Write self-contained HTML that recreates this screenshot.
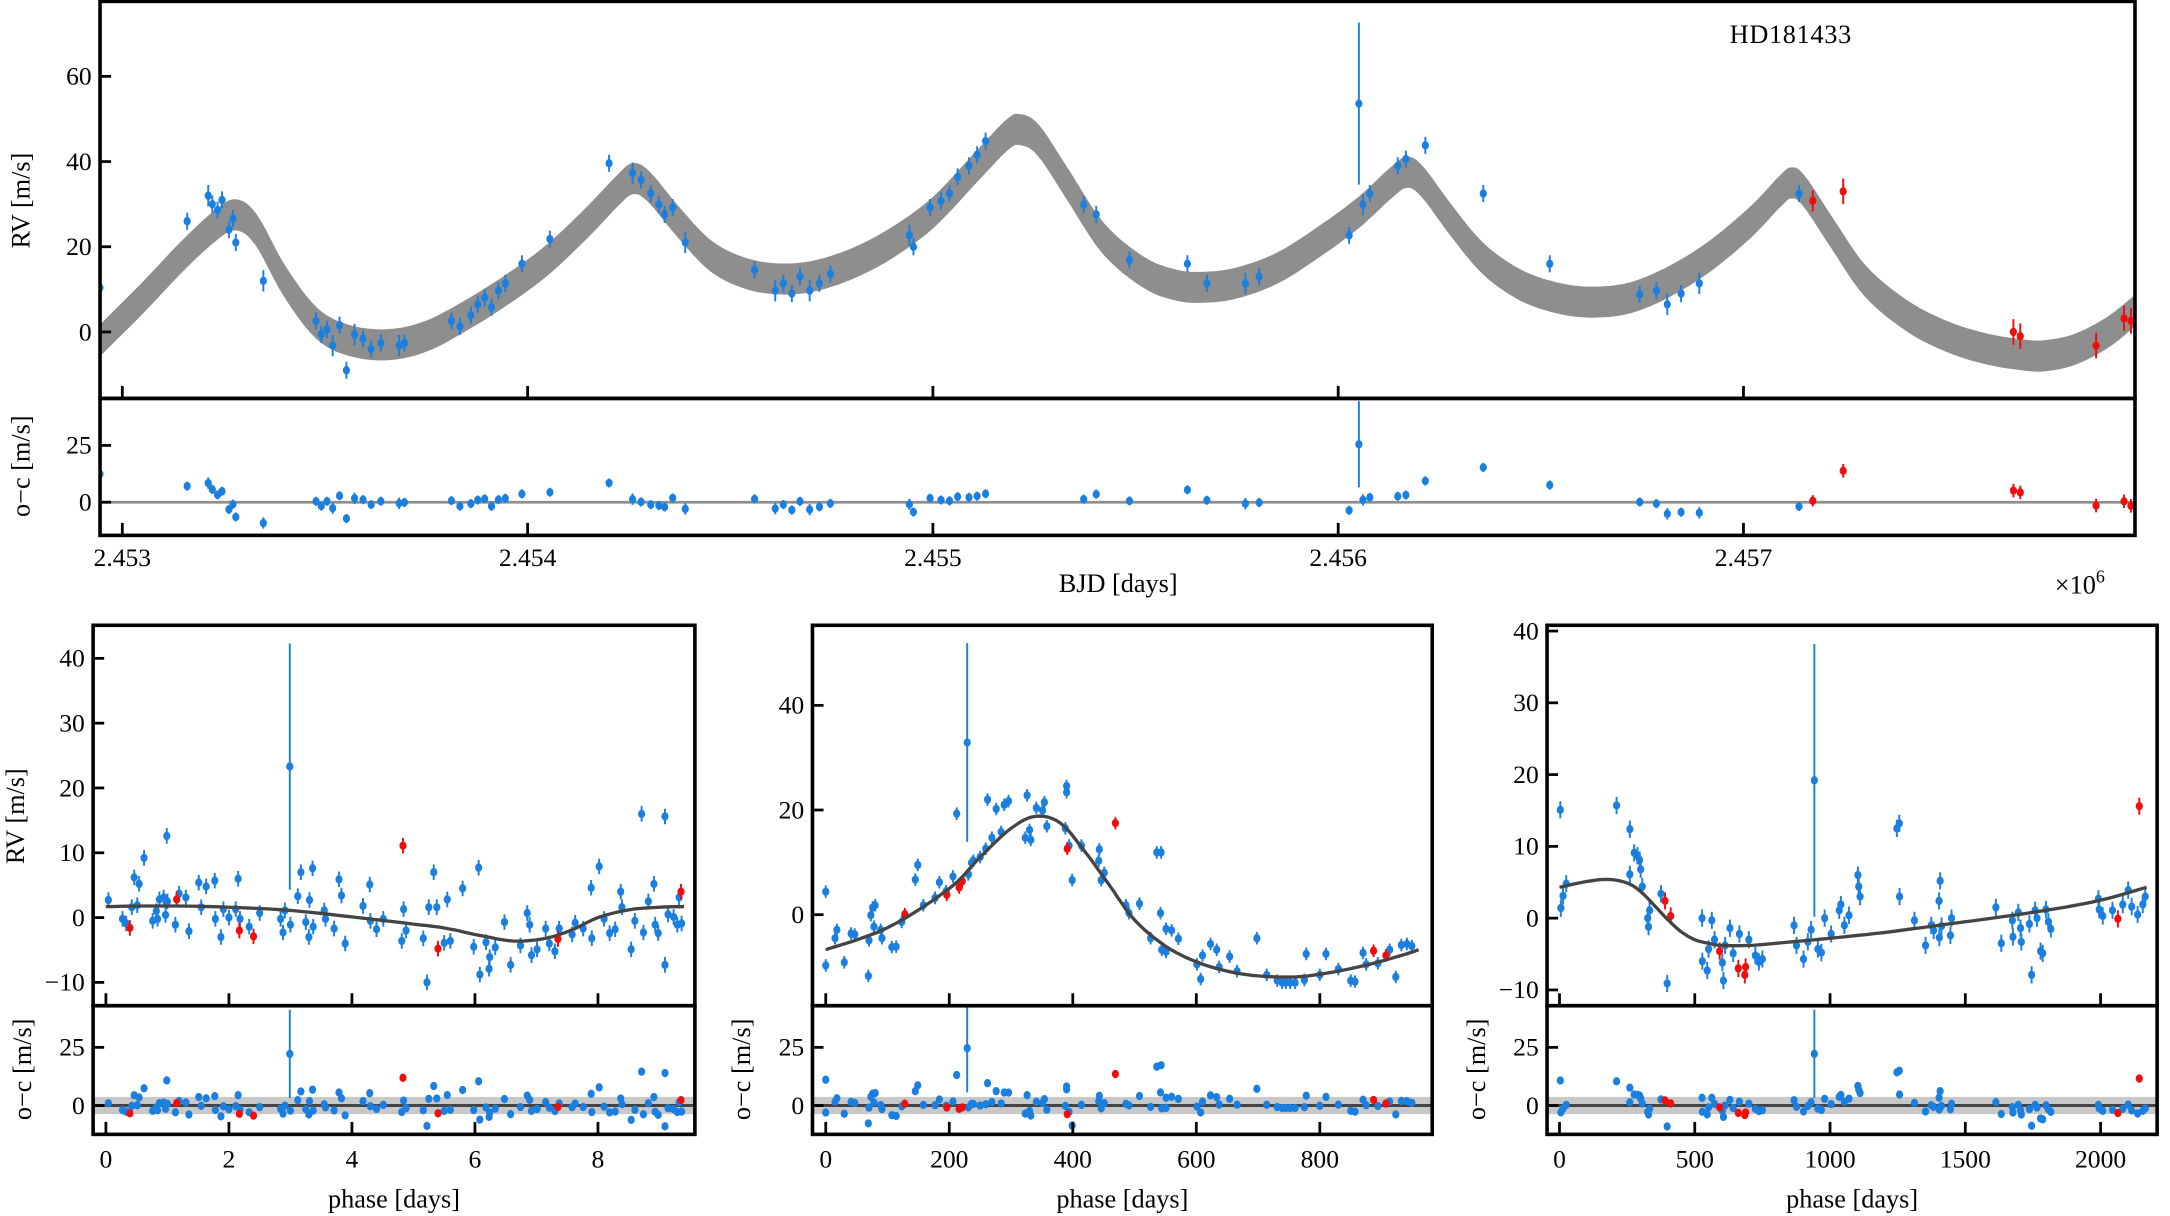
<!DOCTYPE html>
<html><head><meta charset="utf-8"><title>HD181433 RV</title>
<style>
html,body{margin:0;padding:0;background:#fff;}
svg{display:block;font-family:"Liberation Serif","DejaVu Serif",serif;}
</style></head>
<body>
<svg id="chart" xmlns="http://www.w3.org/2000/svg" width="2170" height="1216" viewBox="0 0 1568 879">
<rect x="0" y="0" width="1568" height="879" fill="#fff"/>
</svg>
<script>
// ===== data: top time series (t = BJD - 2450000, value, error) =====
const topBlue = [[2945,10.4,6],[3160,26,2],[3212,32,2.5],[3222,30,2],[3235,28.6,2],[3246,31,2],[3263,24,2],[3273,26.6,2],[3280,21,2],[3348,12,2.5],
[3478,2.6,2],[3491,-0.6,2],[3505,0.6,2],[3519,-3.2,2.5],[3536,1.6,2],[3553,-9,2],[3573,-0.6,2.5],[3594,-1.6,2],[3614,-4,2],[3638,-2.6,2],[3683,-3.2,2.5],[3696,-2.6,2],
[3812,2.6,2],[3833,1.3,2],[3860,3.9,2],[3877,6.5,2],[3894,8,2],[3911,5.8,2],[3928,9.7,2],[3945,11.4,2],[3986,16,2],[4055,21.8,2],
[4201,39.6,2],[4259,37.3,2.5],[4280,35.7,2],[4304,32.5,2],[4324,29.9,2],[4338,27.6,2],[4358,29.2,2],[4389,21,2.5],
[4560,14.6,2],[4611,9.7,2.5],[4631,11.4,2],[4652,9,2],[4672,13,2],[4696,9.7,2.5],[4720,11.4,2],[4747,13.6,2],
[4942,22.7,2.5],[4952,20,2],[4993,29.2,2],[5020,30.8,2],[5041,32.5,2],[5061,36.4,2],[5089,39,2],[5109,41.6,2],[5130,44.8,2],
[5372,29.9,2],[5403,27.6,2],[5485,16.9,2],[5628,16,2],[5676,11.4,2],[5771,11.4,2.5],[5805,13,2],
[6027,22.7,2],[6051,53.6,19],[6061,29.9,2.5],[6078,32.5,2],[6147,39,2],[6167,40.6,2],[6215,43.8,2],
[6358,32.5,2],[6522,16,2],[6744,8.8,2],[6785,9.7,2],[6812,6.5,2.5],[6846,9,2],[6891,11.4,2.5],[7137,32.5,2]];
const topRed = [[7171,30.8,2.5],[7246,33,3],[7666,0,3],[7683,-1,3],[7870,-3.2,3],[7939,3.2,3],[7956,2.6,3]];
const topModelT = [2945,3050,3150,3230,3280,3330,3400,3480,3560,3655,3750,3850,3950,4050,4150,4220,4260,4300,4370,4450,4530,4611,4700,4800,4900,5000,5100,5180,5215,5260,5330,5420,5520,5600,5669,5750,5850,5950,6050,6130,6171,6210,6280,6360,6450,6540,6625,6720,6820,6920,7020,7090,7119,7150,7220,7300,7400,7500,7600,7700,7751,7820,7900,7966];
const topModelV = [-2,8,18,25,27.5,24,12,2,-2,-3,-1,4,10,17,26,33,36,34,26,18,14,12.5,13,16,21,28,38,46,47.5,45,35,22,14,11,10.5,11.5,15,21,28,35,37.5,35,26,17,11,8,7,8,12,18,26,33,35,33,23,12,4,-1,-4,-5.5,-5.5,-4,0,5];
const topXTicks = [3000,4000,5000,6000,7000];
const topXTickLabels = ["2.453","2.454","2.455","2.456","2.457"];
const topYTicks = [0,20,40,60];
const residTicks = [0,25];

// ===== panel 1 (short period) =====
const p1Blue = [[0.04,2.7],[0.27,-0.2],[0.33,-0.9],[0.42,1.6],[0.46,6.2],[0.54,5.2],[0.51,1.9],[0.62,9.2],[0.76,-0.5],[0.82,1],[0.84,-0.2],[0.87,2.8],[0.94,3.1],[0.97,0.4],[0.99,12.6],[1.0,2.5],[1.13,-1.1],[1.19,3.7],[1.3,3.1],[1.35,-2.1],[1.51,5.4],[1.55,1.6],[1.63,4.8],[1.77,5.7],[1.78,-0.2],[1.87,-3],[1.91,1.3],[2.0,0],[2.11,1.3],[2.15,6],[2.18,-0.2],[2.33,-1.4],[2.5,0.7],[2.84,-0.2],[2.88,-2.3],[2.91,1.1],[2.99,23.3,19],[3.0,-1.1],[3.12,3.3],[3.17,7],[3.25,-0.7],[3.3,-3],[3.31,2.7],[3.36,7.6],[3.37,-1.4],[3.55,1.1],[3.57,-0.2],[3.71,-1.7],[3.79,5.9],[3.83,3.4],[3.89,-4],[4.18,1.8],[4.29,5.1],[4.3,-0.5],[4.4,-1.8],[4.51,-0.2],[4.81,-3.6],[4.84,1.3],[4.88,-2],[5.16,-3.2],[5.22,-10],[5.25,1.6],[5.33,7],[5.38,1.6],[5.5,-3.9],[5.55,2.8],[5.6,-3.6],[5.8,4.5],[5.98,-4.5],[6.06,7.7],[6.08,-8.8],[6.18,-3.8],[6.23,-7.9],[6.24,-6.1],[6.33,-4.6],[6.48,-0.7],[6.58,-7.3],[6.74,-4.3],[6.85,0.7],[6.89,-1.1],[6.92,-5.8],[7.01,-4.9],[7.15,-1.7],[7.21,-4],[7.3,-5.2],[7.37,-1.7],[7.58,-2.6],[7.63,-0.8],[7.76,-1.7],[7.89,4.6],[7.9,-3.2],[8.02,7.9],[8.1,-0.2],[8.19,-2.4],[8.28,-1.8],[8.37,4],[8.39,1.6],[8.54,-4.9],[8.6,-0.5],[8.71,16],[8.74,-2.3],[8.82,2.5],[8.91,5.2],[8.93,-1.1],[8.98,-2.4],[9.09,15.6],[9.09,-7.3],[9.14,0.5],[9.23,0.1],[9.29,-1.1],[9.32,3.1],[9.36,-0.9]];
const p1Red = [[0.39,-1.6],[1.15,2.8],[2.17,-2],[2.4,-2.9],[4.83,11.1],[5.4,-4.8],[7.35,-3.3],[9.35,4]];
const p1ModelX = [0,1,2,3,4,5,5.5,6,6.5,6.8,7.2,7.6,8,8.5,9,9.4];
const p1ModelV = [1.7,1.8,1.6,1.1,0.1,-1,-1.6,-2.6,-3.5,-3.6,-3.1,-1.8,0,1.2,1.6,1.7];
const p1XTicks = [0,2,4,6,8];
const p1YTicks = [-10,0,10,20,30,40];

// ===== panel 2 (~960 d) =====
const p2Blue = [[0,4.4],[0,-9.7],[15,-4.5],[18,-2.9],[30,-9.1],[41,-3.6],[47,-3.8],[69,-11.7],[70,-4.9],[73,-0.1],[76,1.4],[80,1.8],[78,-2.3],[89,-2.9],[91,-4.5],[107,-6.2],[114,-6.1],[123,-1.4],[145,6.7],[149,9.5],[158,1.8],[177,3.2],[184,6.2],[195,4.5],[206,7.3],[212,19.3],[229,32.9,19],[231,7.7],[236,9.9],[239,10.3],[250,11],[259,12.6],[262,22],[269,14.7],[276,20.2],[284,15.8],[289,21],[296,21.7],[323,14.7],[326,22.8],[330,16.2],[332,14.3],[341,20.4],[351,19.9],[354,21.5],[358,16.9],[388,16.5],[390,23.4],[390,24.6],[394,13.2],[399,6.6],[414,13.2],[442,10.3],[443,12.5],[446,6.6],[451,8],[486,1.8],[491,0.3],[508,2.1],[526,-4.5],[536,11.9],[543,11.9],[542,0.3],[544,-6.7],[551,-7.1],[551,-2.7],[560,-3],[571,-4.6],[601,-9.5],[607,-12.3],[610,-7.8],[623,-5.6],[633,-6.7],[637,-10],[654,-8],[666,-10.8],[698,-4.5],[714,-11.5],[731,-12.6],[739,-13],[745,-13],[752,-13],[760,-13],[775,-12.5],[778,-7.5],[800,-11.5],[810,-7.5],[830,-10.4],[850,-12.6],[857,-12.8],[870,-7.3],[875,-9.5],[894,-9.3],[913,-6.7],[923,-11.9],[932,-5.8],[941,-5.6],[949,-6]];
const p2Red = [[128,0.1],[196,3.8],[216,5.2],[221,6.4],[391,12.6],[469,17.5],[887,-6.9],[907,-7.8]];
const p2ModelX = [0,100,200,250,300,340,380,420,460,500,550,600,650,700,760,820,880,940,960];
const p2ModelV = [-6.7,-2.5,5,11,16.5,18.8,17.5,12,5.5,-1,-6,-9,-10.8,-11.7,-11.9,-11,-9.5,-7.5,-6.7];
const p2XTicks = [0,200,400,600,800];
const p2YTicks = [0,20,40];

// ===== panel 3 (~2170 d) =====
const p3Blue = [[3,15.1],[5,1.4],[13,3.1],[25,4.8],[211,15.7],[260,12.4],[260,6.1],[276,9.1],[288,8.7],[296,8.1],[300,6.8],[306,4.4],[326,0],[329,-1.2],[333,1.1],[375,3.4],[398,-9.1],[527,0],[528,-6],[546,-7.3],[551,-4.3],[563,-0.3],[573,-3],[602,-6.2],[606,-8.7],[612,-3.8],[630,-1.4],[642,-4.9],[665,-2.2],[700,-3],[724,-5.2],[737,-6.1],[750,-5.7],[867,-1],[876,-3.8],[902,-5.7],[918,-3.3],[930,-1.6],[942,19.2,19],[955,-4.3],[968,-4.8],[980,0],[1004,-2.2],[1034,1.1],[1040,1.9],[1053,-1],[1070,0.4],[1103,6],[1106,4.4],[1111,3],[1247,12.5],[1256,13.2],[1257,3],[1312,-0.3],[1353,-3.8],[1374,-1],[1383,-1.7],[1403,2.4],[1404,-2.7],[1407,5.2],[1412,-1.1],[1445,-2.4],[1449,0],[1613,1.5],[1633,-3.5],[1674,-0.3],[1676,-2.6],[1696,0.8],[1704,-1.4],[1707,-3.3],[1737,-0.8],[1745,-7.9],[1758,1.1],[1765,0],[1778,-4.6],[1786,-4.9],[1798,1.2],[1807,-0.5],[1816,-1.5],[1992,2.7],[1995,1.2],[2008,0.3],[2044,1.1],[2082,1.9],[2102,3.9],[2115,1.6],[2137,0.5],[2156,1.9],[2165,3]];
const p3Red = [[390,2.4],[411,0.3],[592,-4.6],[661,-7],[685,-7.9],[688,-6.8],[2064,-0.1],[2143,15.6]];
const p3ModelX = [0,100,180,250,300,350,400,450,500,550,600,700,800,1000,1200,1400,1600,1800,2000,2170];
const p3ModelV = [4.3,5.1,5.4,4.9,3.7,1.8,-0.2,-1.9,-3,-3.5,-3.8,-3.8,-3.5,-2.8,-2,-1,0,1.1,2.5,4.3];
const p3XTicks = [0,500,1000,1500,2000];
const p3YTicks = [-10,0,10,20,30,40];

const BLUE = "#1b7fe0", RED = "#f20d0d";
const NS = "http://www.w3.org/2000/svg";
const svg = document.getElementById("chart");

function el(tag, attrs, parent) {
  const e = document.createElementNS(NS, tag);
  for (const k in attrs) e.setAttribute(k, attrs[k]);
  (parent || svg).appendChild(e);
  return e;
}
function lin(d0, d1, r0, r1) { return v => r0 + (v - d0) / (d1 - d0) * (r1 - r0); }
function interp(xs, vs, x) {
  if (x <= xs[0]) return vs[0];
  for (let i = 1; i < xs.length; i++) if (x <= xs[i]) { const f = (x - xs[i-1]) / (xs[i] - xs[i-1]); return vs[i-1] + f * (vs[i] - vs[i-1]); }
  return vs[vs.length - 1];
}
// Catmull-Rom densify (smooth curve through model knots)
function smooth(xs, vs, n) {
  const ox = [], ov = [];
  for (let i = 0; i < xs.length - 1; i++) {
    const i0 = Math.max(0, i - 1), i3 = Math.min(xs.length - 1, i + 2);
    for (let k = 0; k < n; k++) {
      const t = k / n, t2 = t * t, t3 = t2 * t;
      const cr = (a, b, c, d) => 0.5 * (2 * b + (-a + c) * t + (2 * a - 5 * b + 4 * c - d) * t2 + (-a + 3 * b - 3 * c + d) * t3);
      ox.push(cr(xs[i0], xs[i], xs[i + 1], xs[i3]));
      ov.push(cr(vs[i0], vs[i], vs[i + 1], vs[i3]));
    }
  }
  ox.push(xs[xs.length - 1]); ov.push(vs[vs.length - 1]);
  return [ox, ov];
}
function fmt(v) { return v < 0 ? "\u2212" + (-v) : String(v); }
let clipId = 0;
function makeClip(x0, y0, x1, y1) {
  const id = "clip" + (clipId++);
  const cp = el("clipPath", { id: id });
  el("rect", { x: x0, y: y0, width: x1 - x0, height: y1 - y0 }, cp);
  return "url(#" + id + ")";
}
function drawPoints(parent, pts, xs, ys, color, defErr, name) {
  for (const p of pts) {
    const e = p.length > 2 ? p[2] : defErr;
    const g = el("g", {}, parent);
    
    
    el("line", { x1: xs(p[0]), x2: xs(p[0]), y1: ys(p[1] - e), y2: ys(p[1] + e), stroke: color, "stroke-width": 1.4 }, g);
    el("ellipse", { cx: xs(p[0]), cy: ys(p[1]), rx: 2.6, ry: 3, fill: color }, g);
  }
}
function yTicks(parent, ticks, x0, ys, labels) {
  ticks.forEach((t, i) => {
    el("line", { x1: x0, x2: x0 + 8, y1: ys(t), y2: ys(t), stroke: "#000", "stroke-width": 2 }, parent);
    const tx = el("text", { x: x0 - 6, y: ys(t) + 6, "text-anchor": "end", "font-size": 18.5 }, parent);
    tx.textContent = labels ? labels[i] : fmt(t);
    
    
  });
}
function xTicks(parent, ticks, xs, yBottom, len) {
  ticks.forEach(t => el("line", { x1: xs(t), x2: xs(t), y1: yBottom, y2: yBottom - len, stroke: "#000", "stroke-width": 2 }, parent));
}
function xTickLabels(parent, ticks, xs, y, labels) {
  ticks.forEach((t, i) => {
    const tx = el("text", { x: xs(t), y: y, "text-anchor": "middle", "font-size": 18.5 }, parent);
    tx.textContent = labels ? labels[i] : fmt(t);
    
    
  });
}
function rotLabel(parent, x, y, txt, name, size) {
  const t = el("text", { x: x, y: y, transform: "rotate(-90 " + x + " " + y + ")", "text-anchor": "middle", "font-size": size || 19 }, parent);
  t.textContent = txt;
  
  
}
function modelPath(xsArr, vsArr, xs, ys, offset) {
  return xsArr.map((x, i) => (i ? "L" : "M") + xs(x).toFixed(1) + " " + ys(vsArr[i] + offset).toFixed(1)).join(" ");
}

// ===== top panel =====
(function () {
  const L = 72, R = 1543, T = 1, M = 288, B = 387;
  const g = el("g", {});
  
  
  const xs = lin(2945, 7966, L, R);
  const ys = lin(-15.6, 77.6, M, T);
  const yr = lin(-14.6, 45.7, B, M);
  const clipTop = makeClip(L, T, R, M);
  const clipRes = makeClip(L, M, R, B);
  const [sx, sv] = smooth(topModelT, topModelV, 6);
  let d = modelPath(sx, sv, xs, ys, 3.4);
  const rev = sx.slice().reverse(), revV = sv.slice().reverse();
  d += " " + rev.map((x, i) => "L" + xs(x).toFixed(1) + " " + ys(revV[i] - 3.4).toFixed(1)).join(" ") + " Z";
  const band = el("path", { d: d, fill: "#8e8e8e", stroke: "#8e8e8e", "stroke-width": 1.5, "clip-path": clipTop }, g);
  
  
  const gp = el("g", { "clip-path": clipTop }, g);
  drawPoints(gp, topBlue, xs, ys, BLUE, 2, 'rv-point-blue');
  drawPoints(gp, topRed, xs, ys, RED, 2.5, 'rv-point-red');
  el("line", { x1: L, x2: R, y1: yr(0), y2: yr(0), stroke: "#8e8e8e", "stroke-width": 2 }, g);
  const gr = el("g", { "clip-path": clipRes }, g);
  const resB = topBlue.map(p => [p[0], p[1] - interp(sx, sv, p[0]), p[2]]);
  const resR = topRed.map(p => [p[0], p[1] - interp(sx, sv, p[0]), p[2]]);
  drawPoints(gr, resB, xs, yr, BLUE, 2, 'residual-point-blue');
  drawPoints(gr, resR, xs, yr, RED, 2.5, 'residual-point-red');
  el("rect", { x: L, y: T, width: R - L, height: M - T, fill: "none", stroke: "#000", "stroke-width": 2.6 }, g);
  el("rect", { x: L, y: M, width: R - L, height: B - M, fill: "none", stroke: "#000", "stroke-width": 2.6 }, g);
  yTicks(g, topYTicks, L, ys);
  yTicks(g, residTicks, L, yr);
  xTicks(g, topXTicks, xs, M, 9);
  xTicks(g, topXTicks, xs, B, 9);
  xTickLabels(g, topXTicks, xs, 409, topXTickLabels);
  const xl = el("text", { x: 808, y: 428, "text-anchor": "middle", "font-size": 19 }, g);
  xl.textContent = "BJD [days]";
  
  
  const mult = el("text", { x: 1485, y: 429, "font-size": 19 }, g);
  mult.innerHTML = '\u00d710<tspan dy="-8" font-size="13">6</tspan>';
  
  
  const ttl = el("text", { x: 1250, y: 31, "font-size": 19, "letter-spacing": "0.5" }, g);
  ttl.textContent = "HD181433";
  
  
  rotLabel(g, 21, 145, "RV [m/s]", 'y-axis-title');
  rotLabel(g, 21, 337, "o\u2212c [m/s]", 'residual-axis-title');
})();

// ===== phase panels =====
function phasePanel(cfg) {
  const T = 452, M = 727, B = 820;
  const g = el("g", {});
  
  
  const xs = lin(cfg.dx[0], cfg.dx[1], cfg.L, cfg.R);
  const ys = lin(cfg.dy[0], cfg.dy[1], M, T);
  const yr = lin(-12.4, 42.9, B, M);
  const clipTop = makeClip(cfg.L, T, cfg.R, M);
  const clipRes = makeClip(cfg.L, M, cfg.R, B);
  const [sx, sv] = smooth(cfg.mx, cfg.mv, 6);
  const gp = el("g", { "clip-path": clipTop }, g);
  drawPoints(gp, cfg.blue, xs, ys, BLUE, 1.2, 'phase-point-blue');
  drawPoints(gp, cfg.red, xs, ys, RED, 1.2, 'phase-point-red');
  const mp = el("path", { d: modelPath(sx, sv, xs, ys, 0), fill: "none", stroke: "#444", "stroke-width": 2.4 }, gp);
  
  
  el("rect", { x: cfg.L, y: yr(3.7), width: cfg.R - cfg.L, height: yr(-3.7) - yr(3.7), fill: "#c8c8c8" }, g);
  el("line", { x1: cfg.L, x2: cfg.R, y1: yr(0), y2: yr(0), stroke: "#444", "stroke-width": 2.2 }, g);
  const gr = el("g", { "clip-path": clipRes }, g);
  const rb = cfg.blue.map(p => [p[0], p[1] - interp(sx, sv, p[0]), p.length > 2 ? p[2] : 0.4]);
  const rr = cfg.red.map(p => [p[0], p[1] - interp(sx, sv, p[0]), 0.4]);
  drawPoints(gr, rb, xs, yr, BLUE, 0.4, 'phase-residual-blue');
  drawPoints(gr, rr, xs, yr, RED, 0.4, 'phase-residual-red');
  el("rect", { x: cfg.L, y: T, width: cfg.R - cfg.L, height: M - T, fill: "none", stroke: "#000", "stroke-width": 2.6 }, g);
  el("rect", { x: cfg.L, y: M, width: cfg.R - cfg.L, height: B - M, fill: "none", stroke: "#000", "stroke-width": 2.6 }, g);
  yTicks(g, cfg.yt, cfg.L, ys);
  yTicks(g, residTicks, cfg.L, yr);
  xTicks(g, cfg.xt, xs, M, 9);
  xTicks(g, cfg.xt, xs, B, 9);
  xTickLabels(g, cfg.xt, xs, 844);
  const xl = el("text", { x: (cfg.L + cfg.R) / 2, y: 873, "text-anchor": "middle", "font-size": 19 }, g);
  xl.textContent = "phase [days]";
  
  
  if (cfg.rvLabel) rotLabel(g, cfg.L - 50, 590, "RV [m/s]", 'phase-rv-axis-title');
  rotLabel(g, cfg.L - 45, 773, "o\u2212c [m/s]", 'phase-residual-axis-title');
}
phasePanel({ name: 'phase-panel-short', L: 67, R: 502, dx: [-0.208, 9.576], dy: [-13.6, 45.1], blue: p1Blue, red: p1Red, mx: p1ModelX, mv: p1ModelV, xt: p1XTicks, yt: p1YTicks, rvLabel: true });
phasePanel({ name: 'phase-panel-medium', L: 587, R: 1035, dx: [-21.5, 982], dy: [-17.4, 55.3], blue: p2Blue, red: p2Red, mx: p2ModelX, mv: p2ModelV, xt: p2XTicks, yt: p2YTicks });
phasePanel({ name: 'phase-panel-long', L: 1118, R: 1559, dx: [-46, 2209], dy: [-12.2, 40.8], blue: p3Blue, red: p3Red, mx: p3ModelX, mv: p3ModelV, xt: p3XTicks, yt: p3YTicks });
</script>
</body></html>
